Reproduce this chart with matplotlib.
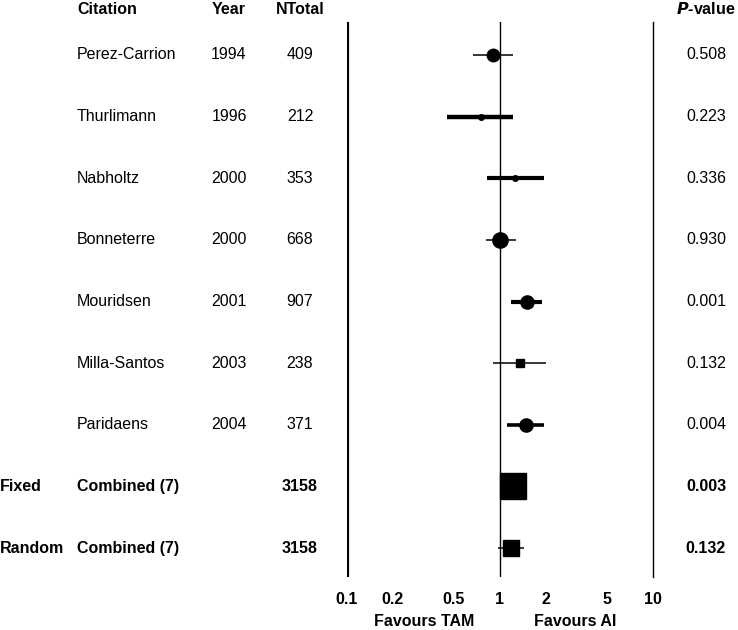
import numpy as np
import matplotlib.pyplot as plt
import matplotlib.transforms as mtransforms

plt.rcParams['font.family'] = ['Liberation Sans', 'DejaVu Sans']

# study data
citations = ['Perez-Carrion', 'Thurlimann', 'Nabholtz', 'Bonneterre',
             'Mouridsen', 'Milla-Santos', 'Paridaens']
years = [1994, 1996, 2000, 2000, 2001, 2003, 2004]
ntotal = [409, 212, 353, 668, 907, 238, 371]
ratio = [0.91, 0.75, 1.25, 1.01, 1.50, 1.35, 1.48]
lower = [0.67, 0.45, 0.82, 0.81, 1.18, 0.91, 1.11]
upper = [1.23, 1.23, 1.94, 1.27, 1.90, 2.02, 1.94]
pvalues = ['0.508', '0.223', '0.336', '0.930', '0.001', '0.132', '0.004']

# combined rows
models = ['Fixed', 'Random']
comb_label = ['Combined (7)', 'Combined (7)']
comb_n = [3158, 3158]
comb_ratio = [1.22, 1.18]
comb_lower = [1.12, 0.97]
comb_upper = [1.33, 1.44]
comb_p = ['0.003', '0.132']

xticks = [0.1, 0.2, 0.5, 1, 2, 5, 10]
xticklabels = ['0.1', '0.2', '0.5', '1', '2', '5', '10']

# marker styles (sizes in points, line widths in points)
study_marker = ['o', 'o', 'o', 'o', 'o', 's', 'o']
study_ms = [9, 4, 4, 11, 9.5, 6, 9.5]
study_lw = [1.1, 3.2, 3.0, 1.1, 3.0, 1.1, 2.6]
comb_ms = [18.5, 11.5]
comb_lw = [1.1, 1.1]

W, H = 738, 630
fig = plt.figure(figsize=(W / 100, H / 100), dpi=100)
ax = fig.add_axes([347 / W, 1 - 577 / H, 305.5 / W, 555 / H])
ax.set_xscale('log')
ax.set_xlim(0.1, 10)
nrows = len(citations) + len(models)
ax.set_ylim(nrows - 1 + 0.47, -0.535)

ax.axvline(0.1, color='black', lw=3.0)
ax.axvline(1, color='black', lw=1.0, snap=True)
ax.axvline(10, color='black', lw=1.0, snap=True, clip_on=False)

for i in range(len(citations)):
    ax.plot([lower[i], upper[i]], [i, i], color='black', lw=study_lw[i],
            solid_capstyle='butt', zorder=3)
    ax.plot(ratio[i], i, marker=study_marker[i], ms=study_ms[i],
            color='black', zorder=4)

for j in range(len(models)):
    y = len(citations) + j
    ax.plot([comb_lower[j], comb_upper[j]], [y, y], color='black',
            lw=comb_lw[j], solid_capstyle='butt', zorder=3)
    ax.plot(comb_ratio[j], y, marker='s', ms=comb_ms[j], color='black', zorder=4)

for s in ax.spines.values():
    s.set_visible(False)
ax.set_yticks([])
ax.set_xticks(xticks)
ax.set_xticklabels(xticklabels, fontweight='bold', fontsize=11.5)
ax.xaxis.set_minor_locator(plt.NullLocator())
ax.tick_params(axis='x', length=0, pad=11)

# text columns
tr = mtransforms.blended_transform_factory(fig.transFigure, ax.transData)
col_model = 0 / W
col_cit = 77 / W
col_year = 229 / W
col_n = 300 / W
col_p = 706 / W
hy = -0.74
fs = 11.5

ax.text(col_cit, hy, 'Citation', transform=tr, fontweight='bold', fontsize=fs,
        va='center', ha='left')
ax.text(col_year, hy, 'Year', transform=tr, fontweight='bold', fontsize=fs,
        va='center', ha='center')
ax.text(col_n, hy, 'NTotal', transform=tr, fontweight='bold', fontsize=fs,
        va='center', ha='center')
ax.text(col_p, hy, r'$\mathbfit{P}$-value', transform=tr, fontweight='bold',
        fontsize=fs, va='center', ha='center')

for i in range(len(citations)):
    ax.text(col_cit, i, citations[i], transform=tr, fontsize=fs, va='center', ha='left')
    ax.text(col_year, i, str(years[i]), transform=tr, fontsize=fs, va='center', ha='center')
    ax.text(col_n, i, str(ntotal[i]), transform=tr, fontsize=fs, va='center', ha='center')
    ax.text(col_p, i, pvalues[i], transform=tr, fontsize=fs, va='center', ha='center')

for j in range(len(models)):
    y = len(citations) + j
    ax.text(col_model, y, models[j], transform=tr, fontsize=fs, fontweight='bold',
            va='center', ha='left')
    ax.text(col_cit, y, comb_label[j], transform=tr, fontsize=fs, fontweight='bold',
            va='center', ha='left')
    ax.text(col_n, y, str(comb_n[j]), transform=tr, fontsize=fs, fontweight='bold',
            va='center', ha='center')
    ax.text(col_p, y, comb_p[j], transform=tr, fontsize=fs, fontweight='bold',
            va='center', ha='center')

fig.text(424 / W, 1 - 621 / H, 'Favours TAM', fontweight='bold', fontsize=fs,
         ha='center', va='center')
fig.text(575 / W, 1 - 621 / H, 'Favours AI', fontweight='bold', fontsize=fs,
         ha='center', va='center')

fig.savefig('out.png', dpi=100)
